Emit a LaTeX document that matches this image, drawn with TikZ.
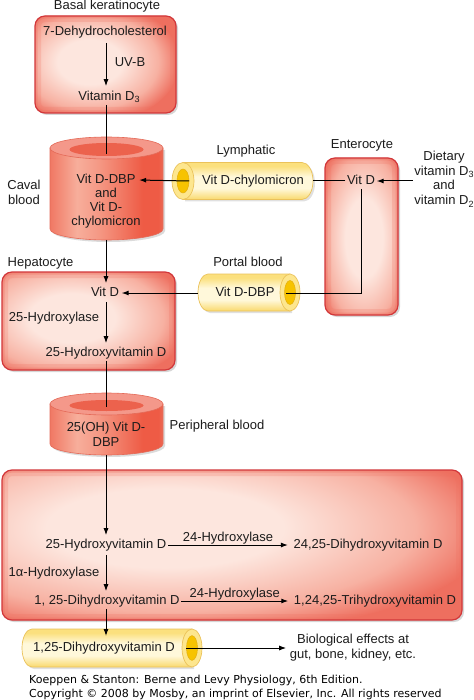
\documentclass[tikz,border=0pt]{standalone}
\usepackage{fontspec}
\setmainfont{Liberation Sans}
\newfontfamily\footfont{DejaVu Sans}
\usetikzlibrary{arrows.meta,calc}
\definecolor{bxred}{HTML}{EE6F5F}
\definecolor{bxmid}{HTML}{F7B1A2}
\definecolor{bxlight}{HTML}{FDE6DE}
\definecolor{bxborder}{HTML}{D2373A}
\definecolor{cylA}{HTML}{F07864}
\definecolor{cylB}{HTML}{F7AE9B}
\definecolor{cylC}{HTML}{F59A86}
\definecolor{cylD}{HTML}{EE5B45}
\definecolor{cylE}{HTML}{EA6A56}
\definecolor{cyltop}{HTML}{F4988A}
\definecolor{cylhole}{HTML}{EC624D}
\definecolor{cylline}{HTML}{E46A58}
\definecolor{yT}{HTML}{FBE07E}
\definecolor{yM}{HTML}{FFF8DA}
\definecolor{yB}{HTML}{F9D96C}
\definecolor{yborder}{HTML}{EBC25A}
\definecolor{yrim}{HTML}{FDE68E}
\definecolor{yhole}{HTML}{F7C300}
\definecolor{yholeb}{HTML}{E3AE10}
\definecolor{txt}{HTML}{1C1C1C}
\pgfdeclareradialshading{glowsh}{\pgfpoint{0bp}{0bp}}{color(0bp)=(bxlight); color(9bp)=(bxlight); color(19bp)=(bxmid); color(25bp)=(bxred); color(50bp)=(bxred)}
\pgfdeclarehorizontalshading{cylsh}{100bp}{color(0bp)=(cylA); color(25bp)=(cylA); color(37bp)=(cylB); color(46bp)=(cylC); color(66bp)=(cylD); color(73bp)=(cylD); color(75bp)=(cylE); color(100bp)=(cylE)}
\pgfdeclareverticalshading{tubesh}{100bp}{color(0bp)=(yB); color(25bp)=(yB); color(40bp)=(yM); color(56bp)=(yM); color(70bp)=(yT); color(75bp)=(yT); color(100bp)=(yT)}
\newcommand{\sbs}[1]{\raisebox{-0.35ex}{\fontsize{9}{9}\selectfont #1}}
\newcommand{\lf}{\fontsize{13}{15}\selectfont}
% x1 y1 x2 y2 cx cy rx ry
\newcommand{\glowbox}[8]{%
  \fill[black, opacity=0.16, rounded corners=10pt] (#1+2,#2+2) rectangle (#3+2,#4+2);
  \fill[bxred, rounded corners=10pt] (#1,#2) rectangle (#3,#4);
  \begin{scope}
    \clip[rounded corners=10pt] (#1,#2) rectangle (#3,#4);
    \shade[shading=glowsh] (#5,#6) ellipse [x radius=#7, y radius=#8];
    \draw[bxred, line width=12pt, opacity=0.22, rounded corners=10pt] (#1,#2) rectangle (#3,#4);
    \draw[bxred, line width=5pt, opacity=0.35, rounded corners=10pt] (#1,#2) rectangle (#3,#4);
  \end{scope}
  \draw[bxborder, line width=1.2pt, rounded corners=10pt] (#1,#2) rectangle (#3,#4);
}
% x1 x2 ytop ybottom ry holerx holery
\newcommand{\cylv}[7]{%
  \fill[black, opacity=0.14] (#1+2,#3+2) -- (#1+2,#4+2) arc[start angle=180, end angle=0, x radius={(#2-#1)/2}, y radius=#5] -- (#2+2,#3+2) -- cycle;
  \shadedraw[shading=cylsh, draw=cylline, line width=0.6pt] (#1,#3) -- (#1,#4) arc[start angle=180, end angle=0, x radius={(#2-#1)/2}, y radius=#5] -- (#2,#3) -- cycle;
  \filldraw[fill=cyltop, draw=cylline, line width=0.6pt] ({(#1+#2)/2},#3) ellipse [x radius={(#2-#1)/2}, y radius=#5];
  \fill[cylhole] ({(#1+#2)/2},#3+1.5) ellipse [x radius=#6, y radius=#7];
}
% open at right: xl xr yc rx ry
\newcommand{\tubeR}[5]{%
  \fill[black, opacity=0.12] (#2+2,#3-#5+2) -- (#1+2,#3-#5+2) arc[start angle=270, end angle=90, x radius=#4, y radius=#5] -- (#2+2,#3+#5+2) -- cycle;
  \shadedraw[shading=tubesh, draw=yborder, line width=0.7pt] (#2,#3-#5) -- (#1,#3-#5) arc[start angle=270, end angle=90, x radius=#4, y radius=#5] -- (#2,#3+#5) -- cycle;
  \filldraw[fill=yrim, draw=yborder, line width=0.7pt] (#2,#3) ellipse [x radius=#4, y radius=#5];
  \filldraw[fill=yhole, draw=yholeb, line width=0.5pt] (#2,#3) ellipse [x radius={0.55*#4}, y radius={0.65*#5}];
}
% open at left: xl xr yc rx ry
\newcommand{\tubeL}[5]{%
  \fill[black, opacity=0.12] (#1+2,#3-#5+2) -- (#2+2,#3-#5+2) arc[start angle=270, end angle=450, x radius=#4, y radius=#5] -- (#1+2,#3+#5+2) -- cycle;
  \shadedraw[shading=tubesh, draw=yborder, line width=0.7pt] (#1,#3-#5) -- (#2,#3-#5) arc[start angle=270, end angle=450, x radius=#4, y radius=#5] -- (#1,#3+#5) -- cycle;
  \filldraw[fill=yrim, draw=yborder, line width=0.7pt] (#1,#3) ellipse [x radius=#4, y radius=#5];
  \filldraw[fill=yhole, draw=yholeb, line width=0.5pt] (#1,#3) ellipse [x radius={0.55*#4}, y radius={0.65*#5}];
}
\tikzset{
  lbl/.style={font=\lf, text=txt, inner sep=1.5pt, text height=9.5pt, text depth=2.7pt},
  arr/.style={-{Latex[length=7pt,width=5pt]}, line width=1pt, draw=black},
  ln/.style={line width=1pt, draw=black},
  foot/.style={font=\footfont\fontsize{11}{13}\selectfont, text=black, inner sep=0pt, anchor=base west}
}
\begin{document}
\begin{tikzpicture}[x=1pt,y=-1pt]
\useasboundingbox (0,0) rectangle (473,700);
\fill[white] (0,0) rectangle (473,700);
% ---- shapes ----
\glowbox{35}{16}{176}{113}{90}{62}{90}{62}
\glowbox{325}{158}{398}{315}{364}{238}{52}{110}
\glowbox{2}{272}{175}{370}{72}{318}{120}{68}
\glowbox{2}{470}{462}{620}{165}{528}{330}{110}
\cylv{50}{163}{148}{229}{11}{37}{6.5}
\cylv{50}{163}{404}{444}{11}{37}{5.5}
\tubeL{183}{302}{181}{11}{18.5}
\tubeR{208}{290}{292.5}{10}{18.5}
\tubeR{32}{192}{648}{10}{19}
% ---- coordinates ----
\coordinate (vx) at (106,0);
\coordinate (cavhole) at (106,154);
\coordinate (cavbot) at (106,240);
\coordinate (lymR) at (313,181);
\coordinate (lymH) at (189,181);
\coordinate (portH) at (286,293);
\coordinate (portL) at (198,293);
\coordinate (perhole) at (106,407);
\coordinate (perbot) at (106,455);
\coordinate (bttip) at (106,636);
\coordinate (btH) at (186,648);
% ---- labels ----
\node[lbl] (bk) at (107,6) {Basal keratinocyte};
\node[lbl] (dhc) at (105,32) {7-Dehydrocholesterol};
\node[lbl] (uvb) at (130,63) {UV-B};
\node[lbl] (vd3) at (109,97) {Vitamin D\sbs{3}};
\node[lbl] (cav1) at (106,180) {Vit D-DBP};
\node[lbl] (cav2) at (106,194) {and};
\node[lbl] (cav3) at (106,208) {Vit D-};
\node[lbl] (cav4) at (106,222) {chylomicron};
\node[lbl, align=center, text height=, text depth=] (caval) at (24,192) {Caval\\blood};
\node[lbl] (lymt) at (246,151) {Lymphatic};
\node[lbl] (lymc) at (253,181) {Vit D-chylomicron};
\node[lbl] (ent) at (362,145) {Enterocyte};
\node[lbl] (evd) at (361,181) {Vit D};
\node[lbl, align=center, text height=, text depth=, font=\fontsize{13}{14.8}\selectfont] (diet) at (444,179) {Dietary\\vitamin D\sbs{3}\\and\\vitamin D\sbs{2}};
\node[lbl] (portt) at (248,263) {Portal blood};
\node[lbl] (portc) at (245,293) {Vit D-DBP};
\node[lbl, anchor=west] (hep) at (6,263) {Hepatocyte};
\node[lbl] (hvd) at (105,293) {Vit D};
\node[lbl] (h25ase) at (54,318) {25-Hydroxylase};
\node[lbl] (h25) at (106,353) {25-Hydroxyvitamin D};
\node[lbl] (per1) at (106,428) {25(OH) Vit D-};
\node[lbl] (per2) at (106,443) {DBP};
\node[lbl] (pert) at (217,426) {Peripheral blood};
\node[lbl] (k25) at (106,545) {25-Hydroxyvitamin D};
\node[lbl] (k2425) at (368,545) {24,25-Dihydroxyvitamin D};
\node[lbl] (k1a) at (54,573) {1α-Hydroxylase};
\node[lbl] (k125) at (107,601) {1, 25-Dihydroxyvitamin D};
\node[lbl] (k12425) at (375,601) {1,24,25-Trihydroxyvitamin D};
\node[lbl] (btc) at (104,648) {1,25-Dihydroxyvitamin D};
\node[lbl, align=center, text height=, text depth=] (bio) at (353,648) {Biological effects at\\gut, bone, kidney, etc.};
\node[foot] (f1) at (29,683) {Koeppen \& Stanton: Berne and Levy Physiology, 6th Edition.};
\node[foot] (f2) at (29,697) {Copyright © 2008 by Mosby, an imprint of Elsevier, Inc. All rights reserved};
% ---- connectors ----
\draw[arr, shorten <=3pt, shorten >=3pt] (dhc.south -| vx) -- (vd3.north -| vx);
\draw[ln] (vd3.south -| vx) -- (cavhole);
\draw[arr, shorten >=2pt] (cavbot) -- (hvd.north -| vx);
\draw[ln] (evd.west) -- (lymR);
\draw[arr, shorten >=2pt] (lymH) -- (cav1.east);
\draw[arr] (diet.west |- evd) -- (evd.east);
\draw[ln] (evd.south) |- (portH);
\draw[arr, shorten >=1pt] (portL) -- (hvd.east);
\draw[arr, shorten <=1pt, shorten >=2pt] (hvd.south -| vx) -- (h25.north -| vx);
\draw[ln] (h25.south -| vx) -- (perhole);
\draw[arr, shorten >=2pt] (perbot) -- (k25.north -| vx);
\draw[arr] (k25.east) -- node[lbl, above, inner sep=0.5pt, text height=, text depth=] (h24a) {24-Hydroxylase} ($(k2425.west)+(-4,0)$);
\draw[arr, shorten <=2pt, shorten >=2pt] (k25.south -| vx) -- (k125.north -| vx);
\draw[arr] (k125.east) -- node[lbl, above, inner sep=0.5pt, text height=, text depth=] (h24b) {24-Hydroxylase} ($(k12425.west)+(-4,0)$);
\draw[arr] (k125.south -| vx) -- (bttip);
\draw[arr] (btH) -- ($(bio.west)+(-2,0)$);
\end{tikzpicture}
\end{document}
